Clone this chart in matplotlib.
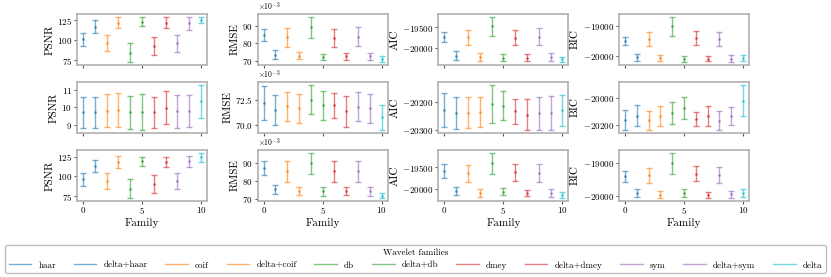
import matplotlib

matplotlib.use("Agg")
import matplotlib.pyplot as plt
from matplotlib.lines import Line2D
import numpy as np

plt.rcParams.update(
    {
        "font.family": "serif",
        "font.serif": ["cmr10", "DejaVu Serif"],
        "mathtext.fontset": "cm",
        "axes.formatter.use_mathtext": True,
        "axes.unicode_minus": True,
        "font.size": 7,
    }
)

FAMILIES = [
    "haar", "delta+haar", "coif", "delta+coif", "db", "delta+db",
    "dmey", "delta+dmey", "sym", "delta+sym", "delta",
]
COLORS = [
    "tab:blue", "tab:blue", "tab:orange", "tab:orange", "tab:green", "tab:green",
    "tab:red", "tab:red", "tab:purple", "tab:purple", "tab:cyan",
]
METRICS = ["PSNR", "RMSE", "AIC", "BIC"]

# --- ряд 1 ---
psnr_1 = [101, 117, 96, 121.7, 84, 123, 93, 122, 96, 121, 125.4]
psnr_1_err = [8, 8, 10, 7, 12, 5.5, 11.5, 6.5, 11, 8, 4]
rmse_1 = [84.8, 73.6, 83.5, 72.9, 89.3, 72.3, 83.1, 72.5, 83.9, 72.5, 70.8]
rmse_1_err = [3.5, 2.5, 5.4, 2.0, 6.0, 1.9, 5.0, 2.0, 5.5, 2.1, 1.7]
aic_1 = [-19724, -20177, -19740, -20207, -19480, -20223, -19747, -20223, -19724, -20207, -20262]
aic_1_err = [115, 107, 184, 92, 226, 85, 184, 80, 207, 92, 69]
bic_1 = [-19516, -20042, -19441, -20074, -19031, -20107, -19409, -20097, -19441, -20097, -20074]
bic_1_err = [130, 118, 226, 108, 323, 97, 226, 86, 242, 118, 108]

# --- ряд 2 ---
psnr_2 = [9.70, 9.70, 9.80, 9.83, 9.70, 9.72, 9.70, 9.98, 9.76, 9.78, 10.33]
psnr_2_err = [0.90, 0.90, 0.95, 0.98, 0.94, 1.04, 0.89, 0.95, 0.94, 0.92, 0.96]
rmse_2 = [72.18, 71.51, 71.86, 71.67, 72.50, 71.96, 71.93, 71.35, 71.80, 71.67, 70.77]
rmse_2_err = [1.62, 1.44, 1.41, 1.41, 1.44, 1.40, 1.20, 1.52, 1.41, 1.41, 1.24]
aic_2 = [-20231, -20240, -20239, -20236, -20207, -20214, -20235, -20246, -20241, -20239, -20231]
aic_2_err = [61, 58, 56, 55, 69, 53, 44, 57, 59, 61, 55]
bic_2 = [-20162, -20129, -20162, -20134, -20111, -20078, -20155, -20134, -20165, -20136, -20021]
bic_2_err = [74, 78, 68, 73, 78, 79, 51, 72, 67, 65, 115]

# --- ряд 3 ---
psnr_3 = [96.2, 112.9, 94, 118.4, 84.2, 119, 90.4, 118.3, 94, 118.8, 124.1]
psnr_3_err = [8.3, 8, 10, 7.5, 12, 6, 11.7, 6.5, 10, 7, 6]
rmse_3 = [87.5, 75.5, 85.5, 74.5, 90.0, 74.5, 85.5, 74.5, 85.5, 74.5, 72.0]
rmse_3_err = [4.0, 2.5, 6.0, 2.0, 6.0, 2.5, 6.0, 2.0, 6.0, 2.5, 1.5]
aic_3 = [-19590, -20052, -19642, -20090, -19403, -20060, -19612, -20090, -19627, -20090, -20149]
aic_3_err = [157, 97, 205, 90, 246, 90, 194, 75, 205, 86, 67]
bic_3 = [-19400, -19910, -19370, -19950, -19000, -19910, -19320, -19960, -19350, -19940, -19900]
bic_3_err = [160, 125, 225, 110, 320, 120, 220, 90, 240, 110, 125]

ROWS = [
    [(psnr_1, psnr_1_err), (rmse_1, rmse_1_err), (aic_1, aic_1_err), (bic_1, bic_1_err)],
    [(psnr_2, psnr_2_err), (rmse_2, rmse_2_err), (aic_2, aic_2_err), (bic_2, bic_2_err)],
    [(psnr_3, psnr_3_err), (rmse_3, rmse_3_err), (aic_3, aic_3_err), (bic_3, bic_3_err)],
]

SPINE = "#b0b0b0"

fig, axes = plt.subplots(3, 4, figsize=(8.31, 2.77), dpi=100)
fig.subplots_adjust(left=0.0927, right=0.9013, top=0.948, bottom=0.276,
                    wspace=0.39, hspace=0.35)

for r, row in enumerate(ROWS):
    for c, (vals, errs) in enumerate(row):
        ax = axes[r, c]
        # RMSE хранится в единицах 1e-3
        scale = 1e-3 if METRICS[c] == "RMSE" else 1
        for i, (v, e) in enumerate(zip(vals, errs)):
            ax.errorbar(i, v * scale, yerr=e * scale, fmt=".", color=COLORS[i],
                        alpha=0.6, capsize=2, markersize=2, elinewidth=1,
                        capthick=1)
        ax.set_ylabel(METRICS[c], fontsize=8, labelpad=2)
        ax.set_xticks([0, 5, 10])
        if r < 2:
            ax.set_xticklabels([])
        else:
            ax.set_xlabel("Family", fontsize=8, labelpad=1)
        if METRICS[c] == "RMSE":
            ax.ticklabel_format(axis="y", style="sci", scilimits=(-3, -3))
            ax.yaxis.get_offset_text().set_fontsize(5.5)
        ax.tick_params(labelsize=6.5, length=2, color="#555555", pad=1.5)
        for s in ax.spines.values():
            s.set_color(SPINE)
            s.set_linewidth(1.2)

handles = [Line2D([], [], color=col, alpha=0.6, lw=1) for col in COLORS]
fig.legend(handles, FAMILIES, title="Wavelet families", ncol=11,
           loc="lower left", bbox_to_anchor=(0.004, 0.007, 0.992, 0.11),
           mode="expand", fontsize=6.5, title_fontsize=6.5, frameon=True,
           edgecolor=SPINE, handlelength=2.5, borderaxespad=0.2)

fig.savefig("out.png", dpi=100)
